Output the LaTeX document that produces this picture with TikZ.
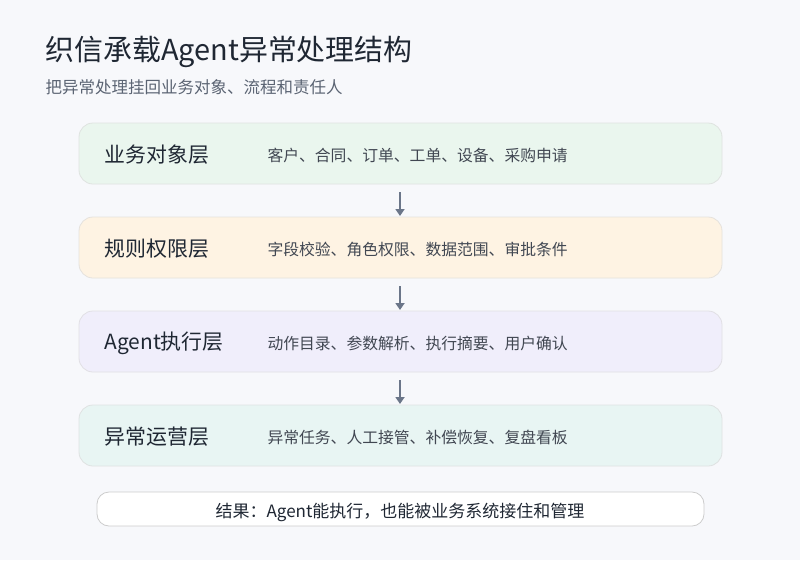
\documentclass[tikz,border=0pt]{standalone}
\usepackage{fontspec}
\setmainfont{Noto Sans CJK SC}
\usetikzlibrary{arrows.meta}
\definecolor{bgc}{HTML}{F7F8FB}
\definecolor{ink}{HTML}{1F2733}
\definecolor{subink}{HTML}{5B6473}
\definecolor{arrowc}{HTML}{6B7689}
\tikzset{
  layer/.style={draw=#1!60!gray!50, line width=0.8pt, rounded corners=14pt, fill=#1},
  title/.style={anchor=west, font=\fontsize{20.9}{22}\selectfont, text=ink},
  desc/.style={anchor=west, font=\fontsize{15.8}{17}\selectfont, text=ink!85},
  flow/.style={arrowc, line width=1.8pt, -{Triangle[length=7pt,width=9pt]}}
}
\definecolor{lgreen}{HTML}{EAF6EE}
\definecolor{lorange}{HTML}{FEF3E3}
\definecolor{lpurple}{HTML}{F0EEFB}
\definecolor{lteal}{HTML}{E8F5F3}
\begin{document}
\begin{tikzpicture}[x=1pt, y=-1pt]
  \fill[bgc] (0,0) rectangle (800,560);
  \useasboundingbox (0,0) rectangle (800,560);

  \node[anchor=west, font=\fontsize{28.9}{30}\selectfont, text=ink] (head) at (42,52) {织信承载Agent异常处理结构};
  \node[anchor=west, font=\fontsize{16.5}{18}\selectfont, text=subink] (sub) at (42,87) {把异常处理挂回业务对象、流程和责任人};

  % layers
  \draw[layer=lgreen] (79,123) rectangle (722,184);
  \node[title] (t1) at (101,155) {业务对象层};
  \node[desc] (d1) at (264,155) {客户、合同、订单、工单、设备、采购申请};

  \draw[layer=lorange] (79,217) rectangle (722,278);
  \node[title] (t2) at (101,249) {规则权限层};
  \node[desc] (d2) at (264,249) {字段校验、角色权限、数据范围、审批条件};

  \draw[layer=lpurple] (79,311) rectangle (722,372);
  \node[title] (t3) at (101,343) {Agent执行层};
  \node[desc] (d3) at (264,343) {动作目录、参数解析、执行摘要、用户确认};

  \draw[layer=lteal] (79,405) rectangle (722,466);
  \node[title] (t4) at (101,437) {异常运营层};
  \node[desc] (d4) at (264,437) {异常任务、人工接管、补偿恢复、复盘看板};

  \coordinate (a1) at (400,192); \coordinate (b1) at (400,216);
  \coordinate (a2) at (400,286); \coordinate (b2) at (400,310);
  \coordinate (a3) at (400,380); \coordinate (b3) at (400,404);
  \draw[flow] (a1) -- (b1);
  \draw[flow] (a2) -- (b2);
  \draw[flow] (a3) -- (b3);

  \draw[fill=white, draw=gray!40, line width=0.8pt, rounded corners=12pt] (97,492) rectangle (704,526);
  \node[font=\fontsize{17}{19}\selectfont, text=ink] (res) at (400,512) {结果：Agent能执行，也能被业务系统接住和管理};
\end{tikzpicture}
\end{document}
